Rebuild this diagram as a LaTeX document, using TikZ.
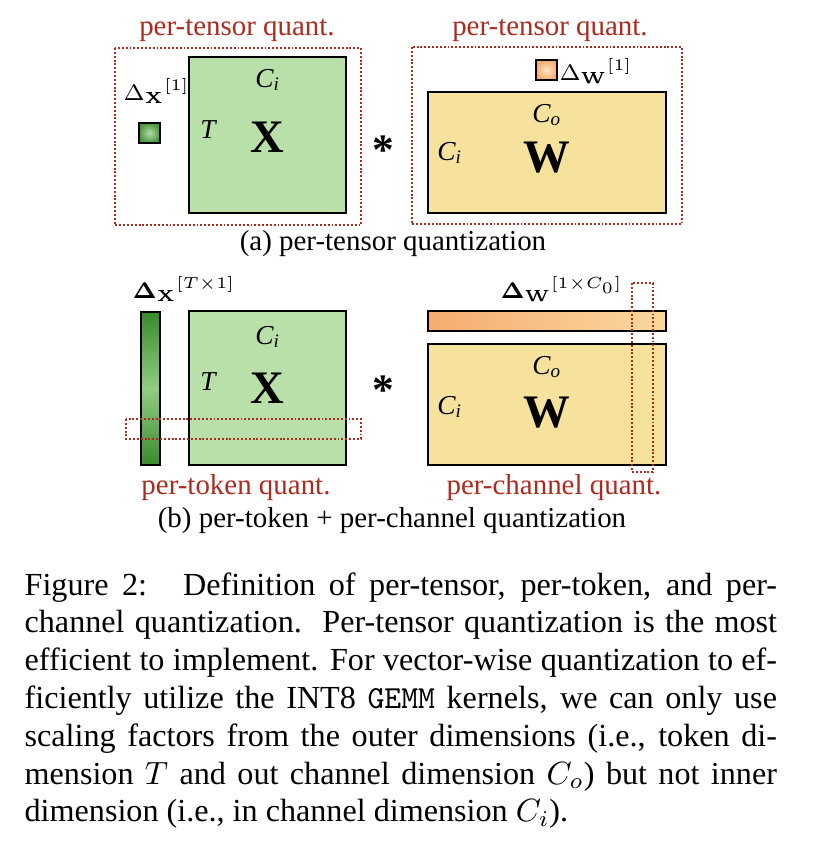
\documentclass[tikz,border=0pt]{standalone}
\usepackage{amsmath}
\usepackage[no-math]{fontspec}
\setmainfont{Liberation Serif}
\usepackage{xcolor}
\usepackage{tikz}
\usetikzlibrary{positioning, calc, backgrounds}

\definecolor{qred}{RGB}{172,42,30}
\definecolor{xgreen}{RGB}{186,224,170}
\definecolor{wyellow}{RGB}{246,226,157}
\definecolor{gdark}{RGB}{58,138,46}
\definecolor{glight}{RGB}{145,205,130}
\definecolor{odark}{RGB}{245,172,112}
\definecolor{olight}{RGB}{251,216,158}

\tikzset{
  mat/.style={draw=black, line width=0.85pt},
  quantbox/.style={draw=qred, line width=0.8pt, dash pattern=on 0.6pt off 0.6pt},
  quantlbl/.style={text=qred, font=\fontsize{9}{11}\selectfont, anchor=base, inner sep=0pt},
  sublbl/.style={font=\fontsize{9}{11}\selectfont, anchor=base, inner sep=0pt},
  dimlbl/.style={font=\fontsize{8.5}{10}\selectfont\itshape, inner sep=0pt},
  bigname/.style={font=\fontsize{14.5}{15}\selectfont\bfseries, inner sep=0pt},
  deltalbl/.style={font=\fontsize{7}{9}\selectfont, anchor=base west, inner sep=0pt},
  opstar/.style={font=\fontsize{13.5}{14}\selectfont\bfseries, inner sep=0pt},
}

\begin{document}
\begin{tikzpicture}[x=0.311pt, y=-0.311pt]
    \useasboundingbox (0,0) rectangle (822,850);

    % (a) per-tensor
    \node[quantlbl] (qa1) at (237,35) {per-tensor quant.};
    \node[quantlbl] (qa2) at (550,35) {per-tensor quant.};
    \draw[quantbox] (115,48) rectangle (361,225);
    \draw[quantbox] (412,47) rectangle (682,224);

    \draw[mat, fill=xgreen] (189,57) rectangle (346,213);
    \node[dimlbl] (ca) at (268,80) {C\textsubscript{i}};
    \node[dimlbl] (ta) at (208,130) {T};
    \node[bigname] (xa) at (267,137) {X};
    \node[deltalbl] (dxa) at (123,100) {${\Delta_{\mathbf{X}}}^{[1]}$};
    \draw[mat, inner color=glight!70!white, outer color=gdark!80!glight] (139,123) rectangle (160,143);

    \node[opstar] (sa) at (383,150) {*};

    \draw[mat, fill=wyellow] (428,92) rectangle (666,213);
    \node[dimlbl] (coa) at (547,115) {C\textsubscript{o}};
    \node[dimlbl] (cia) at (450,153) {C\textsubscript{i}};
    \node[bigname] (wa) at (547,158) {W};
    \draw[mat, inner color=olight!60!white, outer color=odark] (536,60) rectangle (557,80);
    \node[deltalbl] (dwa) at (559,80) {${\Delta_{\mathbf{W}}}^{[1]}$};

    \node[sublbl] (capa) at (393,250) {(a) per-tensor quantization};

    % (b) per-token + per-channel
    \node[deltalbl] (dxb) at (132,298) {${\mathbf{\Delta}_{\mathbf{X}}}^{[T{\times}1]}$};
    \draw[mat, top color=gdark, bottom color=gdark, middle color=glight] (141,312) rectangle (160,465);

    \draw[mat, fill=xgreen] (189,311) rectangle (346,465);
    \node[dimlbl] (cb) at (268,337) {C\textsubscript{i}};
    \node[dimlbl] (tb) at (208,382) {T};
    \node[bigname] (xb) at (267,388) {X};
    \draw[quantbox] (126,419) rectangle (361,439);

    \node[opstar] (sb) at (383,390) {*};

    \node[deltalbl] (dwb) at (500,298) {${\mathbf{\Delta}_{\mathbf{W}}}^{[1{\times}C_0]}$};
    \draw[mat, left color=odark, right color=olight] (428,311) rectangle (666,331);
    \draw[mat, fill=wyellow] (428,344) rectangle (666,465);
    \node[dimlbl] (cob) at (547,367) {C\textsubscript{o}};
    \node[dimlbl] (cib) at (450,407) {C\textsubscript{i}};
    \node[bigname] (wb) at (547,413) {W};
    \draw[quantbox] (632,283) rectangle (653,472);

    \node[quantlbl] (qb1) at (236,494) {per-token quant.};
    \node[quantlbl] (qb2) at (554,494) {per-channel quant.};
    \node[sublbl] (capb) at (392,527) {(b) per-token + per-channel quantization};

    % figure caption
    \node[anchor=base west, inner sep=0pt, text width=234pt, align=justify,
          font=\fontsize{10}{11.76}\selectfont] (caption) at (24,595) {%
      \hyphenpenalty=10000 \tolerance=10000
      Figure 2:\hspace{0.45em} Definition of per-tensor, per-token, and per-\linebreak
      channel quantization.\ \ Per-tensor quantization is the most\linebreak
      efficient to implement. For vector-wise quantization to ef-\linebreak
      ficiently utilize the INT8 \texttt{GEMM} kernels, we can only use\linebreak
      scaling factors from the outer dimensions (i.e., token di-\linebreak
      mension $T$ and out channel dimension $C_o$) but not inner\linebreak
      dimension (i.e., in channel dimension $C_i$).};
\end{tikzpicture}
\end{document}
